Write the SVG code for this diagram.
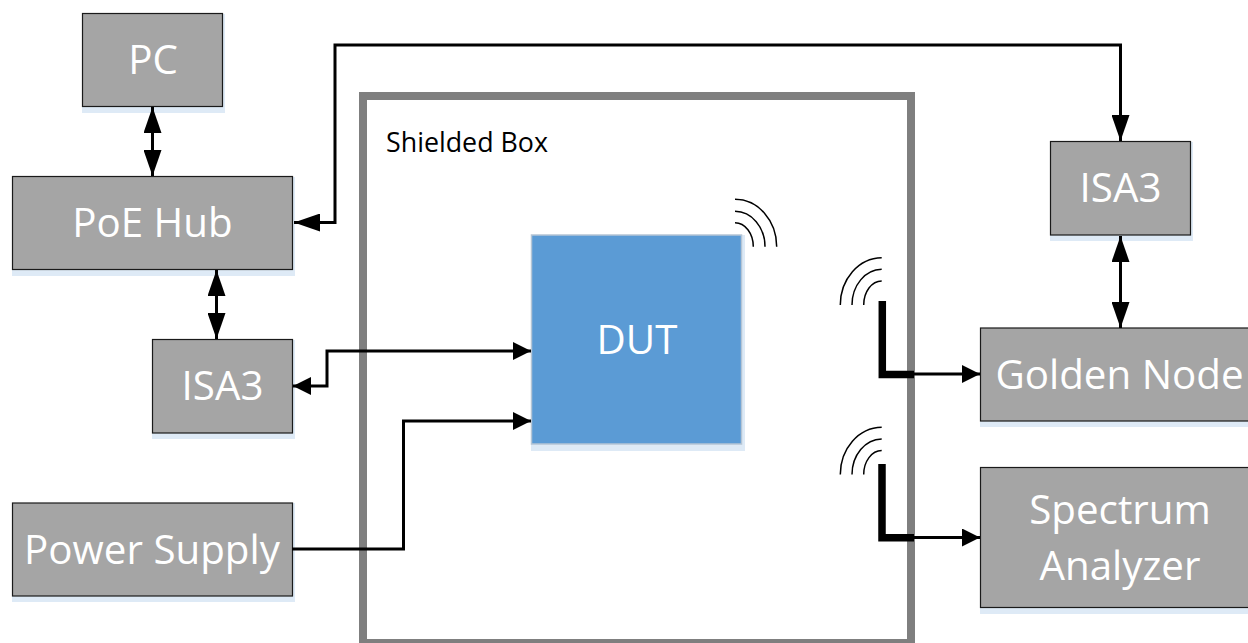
<svg xmlns="http://www.w3.org/2000/svg" width="1248" height="643" viewBox="0 0 1248 643">
<style>
text{font-family:"Open Sans","Noto Sans",sans-serif;fill:#fff;font-size:40.3px;text-anchor:middle}
.box{fill:#a5a5a5;stroke:#1a1a1a;stroke-width:1.2}
.sh{fill:#deeaf6}
.c{fill:none;stroke:#000;stroke-width:3}
.a{fill:none;stroke:#000;stroke-width:1.5}
.t{fill:none;stroke:#000;stroke-width:7.5}
</style>
<defs>
<marker id="big" markerUnits="userSpaceOnUse" markerWidth="26" markerHeight="18" refX="26" refY="9" orient="auto-start-reverse"><path d="M0 0L26 9L0 18Z" fill="#000"/></marker>
<marker id="small" markerUnits="userSpaceOnUse" markerWidth="18" markerHeight="18" refX="18" refY="9" orient="auto-start-reverse"><path d="M0 0L18 9L0 18Z" fill="#000"/></marker>
</defs>
<g id="shielded-box"><rect x="363" y="96" width="548" height="547" fill="#fff" stroke="#7f7f7f" stroke-width="8"/><text x="467" y="151.5" style="fill:#000;font-size:26.8px">Shielded Box</text></g>
<g id="pc"><rect class="sh" x="82" y="14" width="143" height="99"/><rect class="box" x="82.5" y="13.5" width="140" height="93"/><text x="153" y="74">PC</text></g>
<g id="poe-hub"><rect class="sh" x="12" y="177" width="283" height="99"/><rect class="box" x="12.5" y="176.5" width="280" height="93"/><text x="152.5" y="237">PoE Hub</text></g>
<g id="isa3-left"><rect class="sh" x="152" y="340" width="143" height="99"/><rect class="box" x="152.5" y="339.5" width="140" height="93.5"/><text x="222.5" y="400">ISA3</text></g>
<g id="power-supply"><rect class="sh" x="12" y="503" width="283" height="99"/><rect class="box" x="12.5" y="503" width="280" height="93"/><text x="152" y="564">Power Supply</text></g>
<g id="dut"><rect class="sh" x="531" y="235" width="214" height="216"/><rect x="531.5" y="235" width="210" height="209" fill="#5b9bd5" stroke="#b5c5d5" stroke-width="1.5"/><text x="637" y="354">DUT</text></g>
<g id="isa3-right"><rect class="sh" x="1050" y="142" width="143" height="99"/><rect class="box" x="1050.5" y="141.5" width="140" height="93.5"/><text x="1120.5" y="202">ISA3</text></g>
<g id="golden-node"><rect class="sh" x="980" y="328" width="268" height="99"/><rect class="box" x="980.5" y="328" width="280" height="93"/><text x="1119.5" y="389">Golden Node</text></g>
<g id="spectrum-analyzer"><rect class="sh" x="980" y="468" width="268" height="146"/><rect class="box" x="980.5" y="467.5" width="280" height="140"/><text x="1120" y="524">Spectrum</text><text x="1120" y="580">Analyzer</text></g>
<g id="antenna-dut"><path class="a" d="M735 199.3A41.7 47.4 0 0 1 776.7 246.7M735 211.3A30 35.4 0 0 1 765 246.7M735 222.7A18.3 24 0 0 1 753.3 246.7"/></g>
<g id="antenna-golden"><path class="a" d="M881.7 257.7A41.7 47.3 0 0 0 840.3 305M881.7 269.3A30 35.7 0 0 0 852 305M881.7 281A18 24 0 0 0 863.7 305"/></g>
<g id="antenna-spectrum"><path class="a" d="M881.7 427.3A41.7 47.3 0 0 0 840.3 474.6M881.7 438.9A30 35.7 0 0 0 852 474.6M881.7 450.6A18 24 0 0 0 863.7 474.6"/></g>
<g id="connectors">
<path class="c" d="M152.5 107V176" marker-start="url(#big)" marker-end="url(#big)"/>
<path class="c" d="M216.5 270V339" marker-start="url(#big)" marker-end="url(#big)"/>
<path class="c" d="M1120.5 236V328" marker-start="url(#big)" marker-end="url(#big)"/>
<path class="c" d="M294 222.5H335V45H1120.5V141" marker-start="url(#big)" marker-end="url(#big)"/>
<path class="c" d="M293 386H327V351H531" marker-start="url(#small)" marker-end="url(#small)"/>
<path class="c" d="M292 549H403.5V421H531" marker-end="url(#small)"/>
<path class="t" d="M882.3 301V374.5H914"/>
<path class="c" d="M914 374H980" marker-end="url(#small)"/>
<path class="t" d="M882 464V537.8H914"/>
<path class="c" d="M914 537.5H980" marker-end="url(#small)"/>
</g>
</svg>
